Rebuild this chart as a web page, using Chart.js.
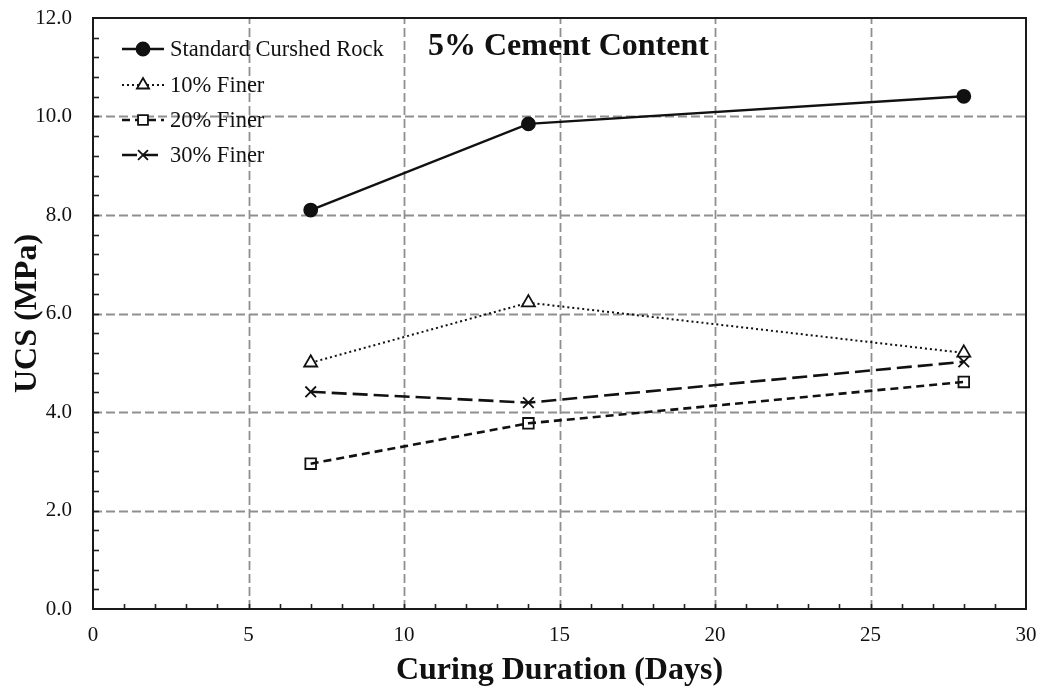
<!DOCTYPE html>
<html>
<head>
<meta charset="utf-8">
<title>UCS vs Curing Duration</title>
<script src="https://cdn.jsdelivr.net/npm/chart.js@4.4.1/dist/chart.umd.min.js"></script>
<style>
  html, body { margin: 0; padding: 0; background: #ffffff; }
  #wrap { width: 1046px; height: 693px; }
</style>
</head>
<body>
<div id="wrap"><canvas id="chart" width="1046" height="693"></canvas></div>
<script>
// Curing durations (days) and UCS results (MPa), 5% cement content
const days = [7, 14, 28];
const standardRock = [8.10, 9.85, 10.41];
const finer10 = [5.00, 6.22, 5.20];
const finer20 = [2.95, 3.77, 4.61];
const finer30 = [4.41, 4.19, 5.02];

const seriesNames = ['Standard Curshed Rock', '10% Finer', '20% Finer', '30% Finer'];
const chartTitle = '5% Cement Content';
const xTitle = 'Curing Duration (Days)';
const yTitle = 'UCS (MPa)';

const SERIF = "'Liberation Serif', 'Times New Roman', serif";
const INK = '#111111';
const GRID = '#8f8f8f';

function pts(values) {
  return days.map((d, i) => ({ x: d, y: values[i] }));
}

const styles = [
  { pointStyle: 'circle',   radius: 6.5, dash: [],      width: 2.4, fill: INK },
  { pointStyle: 'triangle', radius: 7.5, dash: [2, 3],  width: 2.0, fill: '#ffffff' },
  { pointStyle: 'rect',     radius: 7.5, dash: [8, 5],  width: 2.6, fill: 'rgba(0,0,0,0)' },
  { pointStyle: 'crossRot', radius: 7.5, dash: [15, 6], width: 2.6, fill: 'rgba(0,0,0,0)' }
];
const seriesValues = [standardRock, finer10, finer20, finer30];

const datasets = seriesValues.map((vals, i) => ({
  label: seriesNames[i],
  data: pts(vals),
  borderColor: INK,
  borderWidth: styles[i].width,
  borderDash: styles[i].dash,
  pointStyle: styles[i].pointStyle,
  pointRadius: styles[i].radius,
  pointHoverRadius: styles[i].radius,
  pointBorderColor: INK,
  pointBorderWidth: 1.8,
  pointBackgroundColor: styles[i].fill,
  showLine: true,
  tension: 0,
  fill: false
}));

// Dashed grid, inward minor ticks and the black frame round the plot
const framePlugin = {
  id: 'frame',
  beforeDatasetsDraw(chart) {
    const { ctx, chartArea: a, scales: { x, y } } = chart;
    ctx.save();
    ctx.strokeStyle = GRID;
    ctx.lineWidth = 1.8;
    ctx.setLineDash([9, 4]);
    for (let v = 5; v < 30; v += 5) {
      const px = Math.round(x.getPixelForValue(v)) + 0.5;
      ctx.beginPath(); ctx.moveTo(px, a.bottom); ctx.lineTo(px, a.top); ctx.stroke();
    }
    for (let v = 2; v < 12; v += 2) {
      const py = Math.round(y.getPixelForValue(v)) + 0.5;
      ctx.beginPath(); ctx.moveTo(a.left, py); ctx.lineTo(a.right, py); ctx.stroke();
    }
    ctx.restore();
  },
  afterDatasetsDraw(chart) {
    const { ctx, chartArea: a, scales: { x, y } } = chart;
    ctx.save();
    ctx.strokeStyle = '#222222';
    ctx.lineWidth = 1.6;
    ctx.setLineDash([]);
    // minor ticks along x, every day
    for (let v = 1; v < 30; v++) {
      const px = Math.round(x.getPixelForValue(v)) + 0.5;
      ctx.beginPath(); ctx.moveTo(px, a.bottom); ctx.lineTo(px, a.bottom - 5); ctx.stroke();
    }
    // minor ticks along y, every 0.4 MPa
    for (let k = 1; k < 30; k++) {
      const py = Math.round(y.getPixelForValue(k * 0.4)) + 0.5;
      ctx.beginPath(); ctx.moveTo(a.left, py); ctx.lineTo(a.left + 6, py); ctx.stroke();
    }
    ctx.lineWidth = 2;
    ctx.strokeStyle = '#1a1a1a';
    ctx.strokeRect(a.left, a.top, a.right - a.left, a.bottom - a.top);
    ctx.restore();
  },
  afterDraw(chart) {
    const { ctx, chartArea: a } = chart;
    ctx.save();
    // chart heading inside the plot
    ctx.fillStyle = INK;
    ctx.font = `bold 32px ${SERIF}`;
    ctx.textAlign = 'left';
    ctx.textBaseline = 'middle';
    ctx.fillText(chartTitle, 428, 47);

    // legend block, top-left of the plot
    const rowY = [49, 85, 120, 155];
    const lineL = a.left + 29, lineR = a.left + 71, mid = a.left + 50;
    ctx.font = `22.5px ${SERIF}`;
    chart.data.datasets.forEach((ds, i) => {
      const yy = rowY[i];
      ctx.strokeStyle = INK;
      ctx.lineWidth = ds.borderWidth;
      ctx.setLineDash(ds.borderDash);
      ctx.beginPath(); ctx.moveTo(lineL, yy); ctx.lineTo(lineR, yy); ctx.stroke();
      ctx.setLineDash([]);
      ctx.strokeStyle = INK;
      ctx.fillStyle = ds.pointStyle === 'circle' ? INK : '#ffffff';
      ctx.lineWidth = 1.8;
      Chart.helpers.drawPoint(ctx, {
        pointStyle: ds.pointStyle,
        radius: ds.pointStyle === 'circle' ? 6.5 : 7,
        rotation: 0,
        borderWidth: 1.8
      }, mid, yy);
      ctx.fillStyle = INK;
      ctx.fillText(ds.label, a.left + 77, yy + 1);
    });
    ctx.restore();
  }
};

new Chart(document.getElementById('chart'), {
  type: 'scatter',
  data: { datasets },
  options: {
    responsive: false,
    animation: false,
    devicePixelRatio: 1,
    layout: { padding: { top: 18, right: 20, left: 0, bottom: 0 } },
    plugins: {
      legend: { display: false },
      tooltip: { enabled: false },
      title: { display: false }
    },
    scales: {
      x: {
        type: 'linear',
        min: 0, max: 30,
        grid: { display: false, drawTicks: false },
        border: { display: false },
        ticks: {
          stepSize: 5,
          padding: 14,
          color: INK,
          font: { family: SERIF, size: 21 }
        },
        title: {
          display: true,
          text: xTitle,
          color: INK,
          font: { family: SERIF, size: 32, weight: 'bold' },
          padding: { top: 0, bottom: 3 }
        },
        afterFit(scale) {
          scale.height = 84;
          scale.paddingLeft = 0; scale.paddingRight = 0;
          scale.paddingTop = 0; scale.paddingBottom = 0;
        }
      },
      y: {
        type: 'linear',
        min: 0, max: 12,
        grid: { display: false, drawTicks: false },
        border: { display: false },
        ticks: {
          stepSize: 2,
          padding: 21,
          color: INK,
          font: { family: SERIF, size: 21 },
          callback: (v) => Number(v).toFixed(1)
        },
        title: {
          display: true,
          text: yTitle,
          color: INK,
          font: { family: SERIF, size: 32, weight: 'bold' },
          padding: { top: 9, bottom: 0 }
        },
        afterFit(scale) {
          scale.width = 93;
          scale.paddingLeft = 0; scale.paddingRight = 0;
          scale.paddingTop = 0; scale.paddingBottom = 0;
        }
      }
    }
  },
  plugins: [framePlugin]
});
</script>
</body>
</html>
